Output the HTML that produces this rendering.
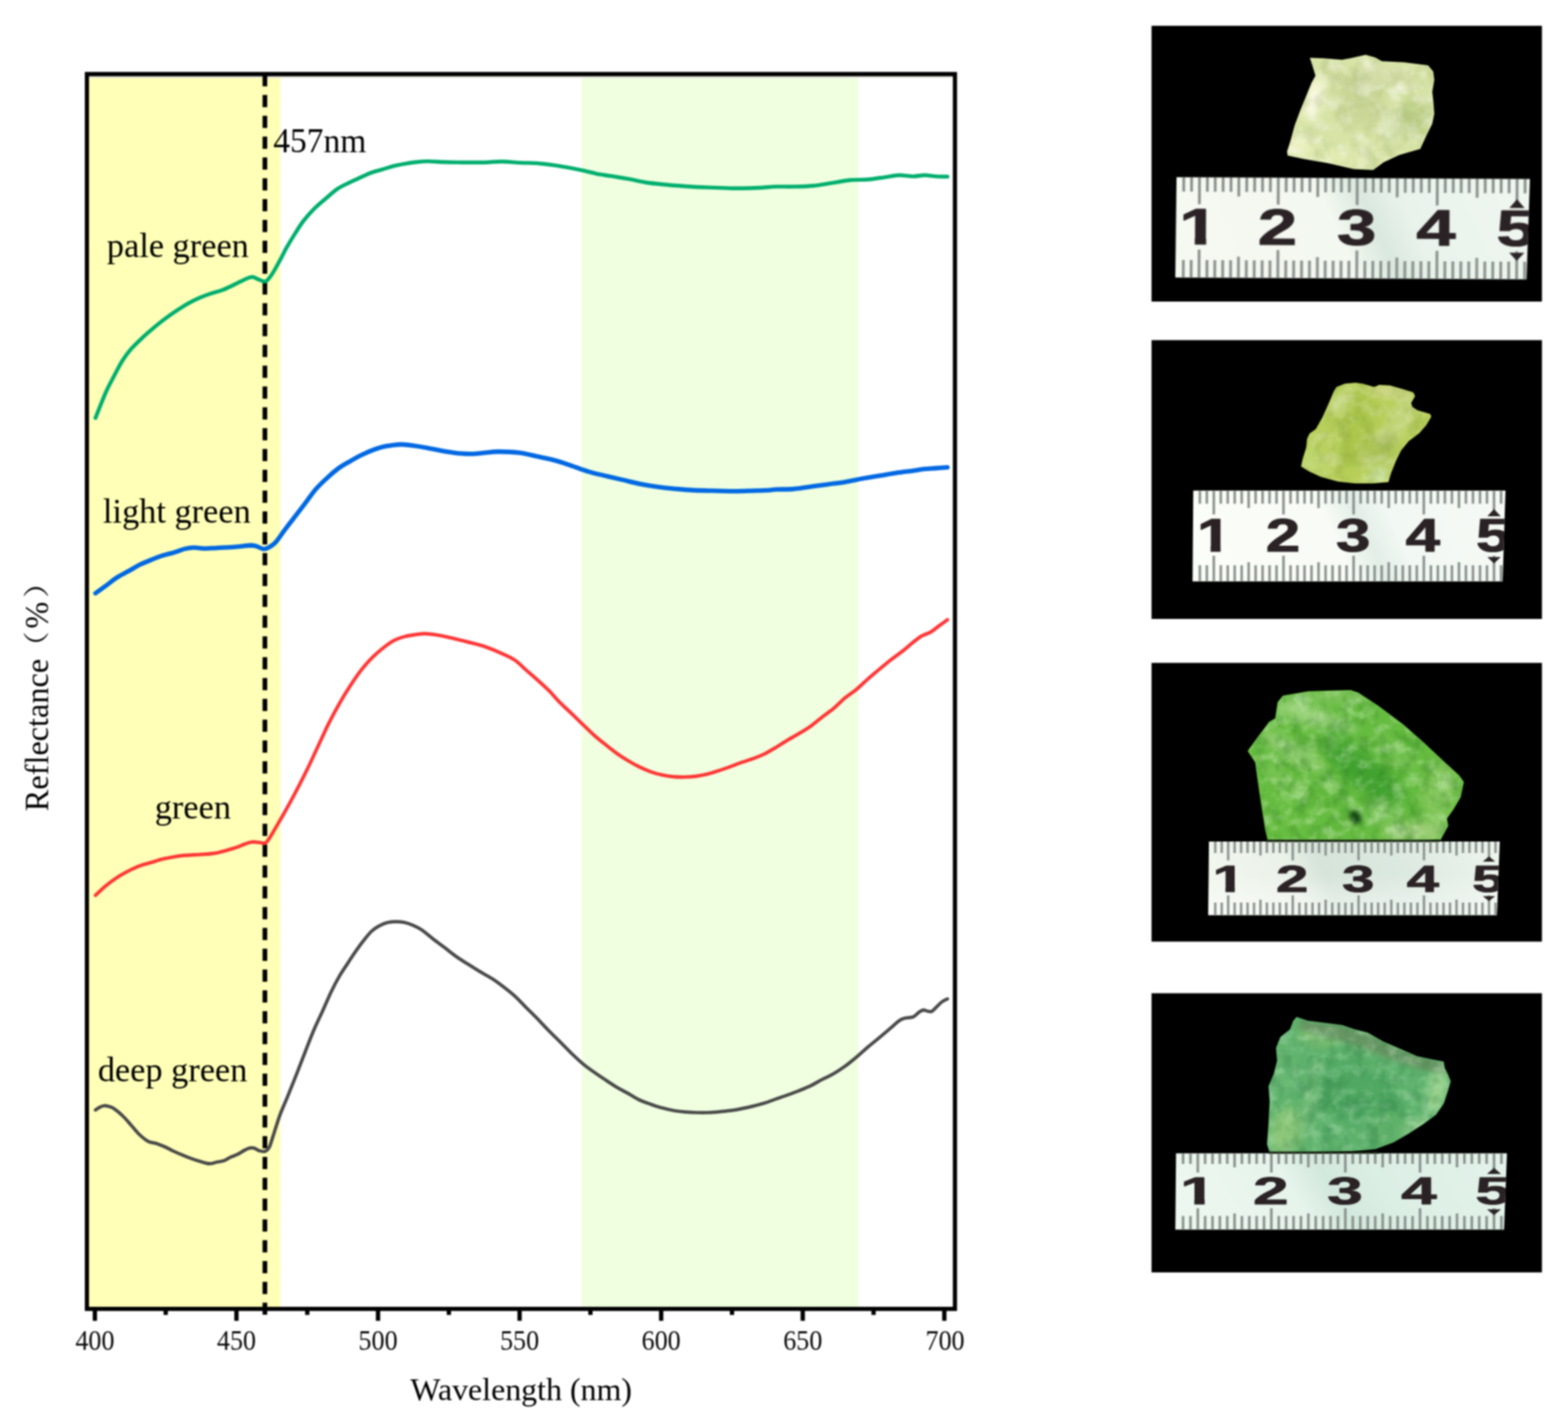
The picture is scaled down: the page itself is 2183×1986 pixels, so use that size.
<!DOCTYPE html>
<html lang="en"><head><meta charset="utf-8"><title>Reflectance spectra</title>
<style>
html,body{margin:0;padding:0;background:#fff;}
body{width:2183px;height:1986px;overflow:hidden;}
svg{display:block;}
text{font-family:"Liberation Serif","Noto Serif CJK SC",serif;}
.ct{fill:#000;}
.tk{fill:#0a0a0a;}
.rn{font-family:"Liberation Sans","DejaVu Sans",sans-serif;font-weight:bold;fill:#2a2225;stroke:#2a2225;stroke-linejoin:round;}
</style></head><body>
<svg xmlns="http://www.w3.org/2000/svg" width="2183" height="1986" viewBox="0 0 2183 1986">
<defs><filter color-interpolation-filters="sRGB" id="soft" x="-2%" y="-2%" width="104%" height="104%"><feGaussianBlur stdDeviation="0.9"/></filter>
<filter color-interpolation-filters="sRGB" id="tsoft" x="-2%" y="-2%" width="104%" height="104%"><feGaussianBlur stdDeviation="0.9"/></filter>
<filter color-interpolation-filters="sRGB" id="pb" x="-5%" y="-5%" width="110%" height="110%"><feGaussianBlur stdDeviation="1.1"/></filter>
<filter color-interpolation-filters="sRGB" id="rb" x="-5%" y="-5%" width="110%" height="110%"><feGaussianBlur stdDeviation="1.0"/></filter>
<filter color-interpolation-filters="sRGB" id="bb" x="-50%" y="-50%" width="200%" height="200%"><feGaussianBlur stdDeviation="7"/></filter>
<filter color-interpolation-filters="sRGB" id="bs" x="-50%" y="-50%" width="200%" height="200%"><feGaussianBlur stdDeviation="3"/></filter>
<filter color-interpolation-filters="sRGB" id="nzl0" x="0" y="0" width="100%" height="100%"><feTurbulence type="fractalNoise" baseFrequency="0.045 0.06" numOctaves="3" seed="3" result="n"/><feColorMatrix in="n" type="matrix" values="0 0 0 0 1  0 0 0 0 1  0 0 0 0 1  3.2 0 0 0 -1.45" result="a"/><feComposite in="SourceGraphic" in2="a" operator="in"/></filter>
<filter color-interpolation-filters="sRGB" id="nzd0" x="0" y="0" width="100%" height="100%"><feTurbulence type="fractalNoise" baseFrequency="0.05 0.04" numOctaves="3" seed="11" result="n"/><feColorMatrix in="n" type="matrix" values="0 0 0 0 1  0 0 0 0 1  0 0 0 0 1  0 3.2 0 0 -1.45" result="a"/><feComposite in="SourceGraphic" in2="a" operator="in"/></filter>
<filter color-interpolation-filters="sRGB" id="nzl1" x="0" y="0" width="100%" height="100%"><feTurbulence type="fractalNoise" baseFrequency="0.045 0.06" numOctaves="3" seed="10" result="n"/><feColorMatrix in="n" type="matrix" values="0 0 0 0 1  0 0 0 0 1  0 0 0 0 1  3.2 0 0 0 -1.45" result="a"/><feComposite in="SourceGraphic" in2="a" operator="in"/></filter>
<filter color-interpolation-filters="sRGB" id="nzd1" x="0" y="0" width="100%" height="100%"><feTurbulence type="fractalNoise" baseFrequency="0.05 0.04" numOctaves="3" seed="16" result="n"/><feColorMatrix in="n" type="matrix" values="0 0 0 0 1  0 0 0 0 1  0 0 0 0 1  0 3.2 0 0 -1.45" result="a"/><feComposite in="SourceGraphic" in2="a" operator="in"/></filter>
<filter color-interpolation-filters="sRGB" id="nzl2" x="0" y="0" width="100%" height="100%"><feTurbulence type="fractalNoise" baseFrequency="0.045 0.06" numOctaves="3" seed="17" result="n"/><feColorMatrix in="n" type="matrix" values="0 0 0 0 1  0 0 0 0 1  0 0 0 0 1  3.2 0 0 0 -1.45" result="a"/><feComposite in="SourceGraphic" in2="a" operator="in"/></filter>
<filter color-interpolation-filters="sRGB" id="nzd2" x="0" y="0" width="100%" height="100%"><feTurbulence type="fractalNoise" baseFrequency="0.05 0.04" numOctaves="3" seed="21" result="n"/><feColorMatrix in="n" type="matrix" values="0 0 0 0 1  0 0 0 0 1  0 0 0 0 1  0 3.2 0 0 -1.45" result="a"/><feComposite in="SourceGraphic" in2="a" operator="in"/></filter>
<filter color-interpolation-filters="sRGB" id="nzl3" x="0" y="0" width="100%" height="100%"><feTurbulence type="fractalNoise" baseFrequency="0.045 0.06" numOctaves="3" seed="24" result="n"/><feColorMatrix in="n" type="matrix" values="0 0 0 0 1  0 0 0 0 1  0 0 0 0 1  3.2 0 0 0 -1.45" result="a"/><feComposite in="SourceGraphic" in2="a" operator="in"/></filter>
<filter color-interpolation-filters="sRGB" id="nzd3" x="0" y="0" width="100%" height="100%"><feTurbulence type="fractalNoise" baseFrequency="0.05 0.04" numOctaves="3" seed="26" result="n"/><feColorMatrix in="n" type="matrix" values="0 0 0 0 1  0 0 0 0 1  0 0 0 0 1  0 3.2 0 0 -1.45" result="a"/><feComposite in="SourceGraphic" in2="a" operator="in"/></filter>
<clipPath id="sc0"><path d="M1824.6,81.2L1843.3,81.9L1868.3,84.0L1879.4,81.9L1901.7,77.1L1914.2,80.6L1923.9,86.1L1954.4,87.5L1987.8,91.7L1994.7,100.0L1996.1,111.1L1993.3,127.8L1994.7,140.3L1996.1,158.3L1993.3,172.2L1985.0,188.9L1976.7,206.9L1947.5,215.3L1926.7,225.0L1911.4,236.1L1885.0,234.7L1848.9,226.4L1815.6,220.8L1793.3,216.0L1792.6,211.1L1797.5,195.8L1803.1,175.0L1811.4,152.8L1818.3,136.1L1826.7,115.3L1832.2,105.6L1828.1,91.7Z"/></clipPath>
<clipPath id="sc1"><path d="M1861.0,539.8L1872.9,535.0L1887.1,533.8L1899.0,535.6L1913.3,539.8L1920.5,536.8L1934.8,537.4L1951.4,542.1L1966.9,546.9L1969.3,551.7L1963.9,561.2L1965.7,567.1L1972.9,571.9L1990.7,577.3L1991.9,580.2L1984.8,592.1L1975.2,602.9L1961.0,613.6L1950.2,626.7L1943.1,641.0L1936.0,658.8L1932.4,670.7L1911.0,672.5L1887.1,672.5L1863.3,670.1L1839.5,663.6L1821.7,655.2L1812.1,649.3L1814.5,638.6L1819.3,623.1L1820.5,611.2L1824.0,604.0L1832.4,598.1L1841.9,581.4L1851.4,560.0L1857.4,545.7Z"/></clipPath>
<clipPath id="sc2"><path d="M1786.4,969.5L1821.1,963.4L1852.4,962.6L1880.1,961.7L1890.6,965.2L1918.3,983.4L1953.1,1009.4L1980.8,1033.8L2008.6,1059.8L2031.2,1080.6L2037.3,1089.3L2032.9,1110.1L2022.5,1127.5L2013.8,1139.7L2015.6,1150.1L2005.1,1169.2L1970.4,1170.9L1765.6,1170.0L1762.1,1155.3L1756.9,1122.3L1751.7,1087.6L1748.2,1061.5L1737.8,1045.9L1751.7,1026.8L1767.3,1006.0L1776.0,1000.8L1779.4,978.2Z"/></clipPath>
<clipPath id="sc3"><path d="M1805.5,1417.1L1820.4,1422.3L1844.2,1425.3L1868.0,1428.3L1885.8,1434.2L1903.7,1438.7L1924.5,1450.6L1948.3,1461.0L1972.1,1471.4L1993.0,1475.9L2009.3,1478.9L2010.8,1487.8L2015.3,1496.7L2019.0,1505.7L2015.3,1519.0L2009.3,1536.9L1998.9,1551.8L1981.1,1565.2L1960.2,1578.6L1939.4,1590.5L1915.6,1599.4L1881.4,1603.1L1844.2,1603.9L1799.5,1605.1L1768.3,1605.1L1764.6,1593.5L1766.8,1563.7L1768.3,1533.9L1766.8,1513.1L1774.2,1495.2L1778.7,1477.4L1777.2,1459.5L1783.2,1444.6L1796.5,1434.2L1801.0,1422.3Z"/></clipPath>
<clipPath id="rc0"><path d="M1638.0,246.7 L2130.0,246.7 L2126.0,386.6 L1637.0,386.6 Z"/></clipPath>
<clipPath id="rc1"><path d="M1661.3,683.3 L2096.0,683.3 L2092.0,809.8 L1660.3,809.8 Z"/></clipPath>
<clipPath id="rc2"><path d="M1683.1,1172.0 L2088.0,1172.0 L2084.0,1274.4 L1682.1,1274.4 Z"/></clipPath>
<clipPath id="rc3"><path d="M1637.3,1606.2 L2098.0,1606.2 L2094.0,1712.5 L1636.3,1712.5 Z"/></clipPath>
<linearGradient id="rg0" x1="0" y1="0.13" x2="1" y2="0"><stop offset="0" stop-color="#f6f9f2"/><stop offset="0.4" stop-color="#f3f8f0"/><stop offset="0.51" stop-color="#dae8df"/><stop offset="0.62" stop-color="#e9f3ec"/><stop offset="1" stop-color="#f1f7f1"/></linearGradient>
<linearGradient id="rg1" x1="0" y1="0.13" x2="1" y2="0"><stop offset="0" stop-color="#fbfdf8"/><stop offset="0.4" stop-color="#f8fbf6"/><stop offset="0.5" stop-color="#e3eee7"/><stop offset="0.6" stop-color="#f2f8f3"/><stop offset="1" stop-color="#f6faf6"/></linearGradient>
<linearGradient id="rg2" x1="0" y1="0.10" x2="1" y2="0"><stop offset="0" stop-color="#f1f6ee"/><stop offset="0.24" stop-color="#ebf2ea"/><stop offset="0.36" stop-color="#d6e4da"/><stop offset="0.62" stop-color="#dce9e0"/><stop offset="1" stop-color="#eef5ee"/></linearGradient>
<linearGradient id="rg3" x1="0" y1="0.13" x2="1" y2="0"><stop offset="0" stop-color="#ecf7ef"/><stop offset="0.3" stop-color="#e6f4ec"/><stop offset="0.42" stop-color="#d3e8dd"/><stop offset="0.58" stop-color="#dcefe5"/><stop offset="1" stop-color="#e4f3eb"/></linearGradient>
<linearGradient id="rgv" x1="0" y1="0" x2="0" y2="1"><stop offset="0" stop-color="#fff" stop-opacity="0"/><stop offset="0.45" stop-color="#fff" stop-opacity="0"/><stop offset="1" stop-color="#fff" stop-opacity="0.55"/></linearGradient>
</defs>
<rect width="2183" height="1986" fill="#fff"/>
<g id="chart" filter="url(#soft)">
<rect x="121" y="108.5" width="269.5" height="1715" fill="#ffffb7"/>
<rect x="810" y="108.5" width="385" height="1715" fill="#efffdf"/>
<rect x="121" y="105" width="1208.8" height="3" fill="#c9c9c1"/>
<rect x="121" y="103.1" width="1208.5" height="1719.8" fill="none" stroke="#000" stroke-width="5.8"/>
<line x1="132.1" y1="1823" x2="132.1" y2="1839.5" stroke="#000" stroke-width="6"/>
<line x1="230.7" y1="1823" x2="230.7" y2="1831.3" stroke="#000" stroke-width="6"/>
<line x1="329.2" y1="1823" x2="329.2" y2="1839.5" stroke="#000" stroke-width="6"/>
<line x1="427.8" y1="1823" x2="427.8" y2="1831.3" stroke="#000" stroke-width="6"/>
<line x1="526.3" y1="1823" x2="526.3" y2="1839.5" stroke="#000" stroke-width="6"/>
<line x1="624.9" y1="1823" x2="624.9" y2="1831.3" stroke="#000" stroke-width="6"/>
<line x1="723.4" y1="1823" x2="723.4" y2="1839.5" stroke="#000" stroke-width="6"/>
<line x1="822.0" y1="1823" x2="822.0" y2="1831.3" stroke="#000" stroke-width="6"/>
<line x1="920.5" y1="1823" x2="920.5" y2="1839.5" stroke="#000" stroke-width="6"/>
<line x1="1019.1" y1="1823" x2="1019.1" y2="1831.3" stroke="#000" stroke-width="6"/>
<line x1="1117.6" y1="1823" x2="1117.6" y2="1839.5" stroke="#000" stroke-width="6"/>
<line x1="1216.2" y1="1823" x2="1216.2" y2="1831.3" stroke="#000" stroke-width="6"/>
<line x1="1314.7" y1="1823" x2="1314.7" y2="1839.5" stroke="#000" stroke-width="6"/>
<line x1="368.8" y1="103.2" x2="368.8" y2="1831" stroke="#000" stroke-width="6.5" stroke-dasharray="17 12"/>
<path d="M132.9,1545.9C133.9,1545.3 136.9,1542.9 138.9,1542.0C140.9,1541.0 142.9,1540.2 144.8,1540.0C146.8,1539.8 148.5,1540.1 150.8,1540.8C153.1,1541.4 155.4,1541.8 158.7,1543.9C162.0,1546.1 166.7,1550.0 170.6,1553.9C174.6,1557.7 178.6,1562.5 182.5,1567.0C186.5,1571.4 190.5,1576.7 194.4,1580.4C198.4,1584.2 202.4,1587.5 206.3,1589.6C210.3,1591.6 214.3,1591.4 218.3,1592.7C222.2,1594.1 226.2,1595.7 230.2,1597.5C234.1,1599.3 238.1,1601.6 242.1,1603.5C246.0,1605.3 250.0,1607.0 254.0,1608.6C257.9,1610.3 261.9,1611.9 265.9,1613.4C269.8,1614.8 274.1,1616.2 277.8,1617.3C281.4,1618.5 285.1,1619.6 287.7,1620.1C290.3,1620.7 291.3,1620.8 293.7,1620.5C296.0,1620.3 298.6,1619.2 301.6,1618.5C304.6,1617.9 308.2,1617.7 311.5,1616.6C314.8,1615.4 318.1,1612.9 321.4,1611.4C324.7,1609.9 328.0,1609.1 331.3,1607.4C334.7,1605.8 338.3,1602.9 341.3,1601.5C344.2,1600.0 346.9,1599.0 349.2,1598.7C351.5,1598.4 353.2,1598.8 355.2,1599.5C357.1,1600.2 358.8,1602.0 361.1,1602.7C363.4,1603.3 366.7,1604.3 369.0,1603.5C371.4,1602.6 373.0,1601.5 375.0,1597.5C377.0,1593.5 378.4,1587.3 381.0,1579.7C383.5,1572.0 386.9,1560.5 390.1,1551.9C393.3,1543.3 396.1,1537.7 400.0,1528.1C403.9,1518.5 409.2,1505.2 413.5,1494.3C417.8,1483.4 421.8,1472.8 425.8,1462.6C429.8,1452.3 433.7,1442.1 437.7,1432.8C441.7,1423.6 445.7,1415.6 449.6,1407.0C453.5,1398.4 457.3,1389.2 461.1,1381.2C464.9,1373.3 468.8,1366.0 472.6,1359.4C476.5,1352.8 480.4,1347.3 484.1,1341.6C487.9,1335.8 491.5,1330.2 495.2,1324.9C498.9,1319.6 502.7,1314.4 506.3,1309.8C510.0,1305.2 513.4,1300.6 517.1,1297.1C520.8,1293.7 524.8,1291.2 528.6,1289.2C532.3,1287.1 535.8,1285.7 539.7,1284.8C543.5,1283.9 547.6,1283.6 551.6,1283.6C555.6,1283.6 559.5,1283.9 563.5,1284.8C567.5,1285.7 571.4,1287.1 575.4,1288.8C579.4,1290.5 582.7,1292.0 587.3,1295.1C591.9,1298.3 597.9,1303.7 603.2,1307.8C608.5,1311.9 613.8,1315.7 619.0,1319.7C624.3,1323.8 629.6,1328.3 634.9,1332.0C640.2,1335.8 645.5,1339.0 650.8,1342.3C656.1,1345.7 661.4,1349.1 666.7,1352.3C672.0,1355.4 677.9,1358.6 682.5,1361.4C687.2,1364.2 688.9,1365.2 694.4,1369.3C700.0,1373.5 709.7,1380.9 715.9,1386.4C722.1,1391.9 726.5,1397.0 731.7,1402.3C737.0,1407.6 742.3,1412.7 747.6,1418.1C752.9,1423.6 758.2,1429.4 763.5,1434.8C768.8,1440.2 774.1,1445.4 779.4,1450.7C784.7,1456.0 789.9,1461.5 795.2,1466.6C800.5,1471.6 805.8,1476.8 811.1,1481.2C816.4,1485.7 821.7,1489.4 827.0,1493.1C832.3,1496.9 837.6,1500.4 842.9,1503.9C848.1,1507.4 853.4,1511.0 858.7,1514.2C864.0,1517.3 869.3,1519.9 874.6,1522.9C879.9,1525.9 885.2,1529.5 890.5,1532.0C895.8,1534.5 901.1,1536.1 906.3,1538.0C911.6,1539.8 916.9,1541.7 922.2,1543.1C927.5,1544.6 932.8,1545.8 938.1,1546.7C943.4,1547.6 948.7,1548.2 954.0,1548.7C959.3,1549.2 964.6,1549.4 969.8,1549.5C975.1,1549.6 980.4,1549.7 985.7,1549.5C991.0,1549.3 996.3,1548.8 1001.6,1548.3C1006.9,1547.8 1012.2,1547.4 1017.5,1546.7C1022.8,1546.0 1028.0,1545.0 1033.3,1543.9C1038.6,1542.9 1043.9,1541.7 1049.2,1540.4C1054.5,1539.0 1059.8,1537.7 1065.1,1536.0C1070.4,1534.3 1075.7,1532.3 1081.0,1530.4C1086.2,1528.6 1091.5,1526.8 1096.8,1524.9C1102.1,1523.0 1107.4,1521.1 1112.7,1518.9C1118.0,1516.8 1123.3,1514.8 1128.6,1512.2C1133.9,1509.6 1139.2,1506.2 1144.4,1503.5C1149.7,1500.7 1155.0,1498.6 1160.3,1495.5C1165.6,1492.5 1170.9,1489.0 1176.2,1485.2C1181.5,1481.4 1186.8,1476.9 1192.1,1472.5C1197.4,1468.1 1202.6,1463.1 1207.9,1458.6C1213.2,1454.1 1218.5,1450.0 1223.8,1445.5C1229.1,1441.1 1235.1,1436.0 1239.7,1432.0C1244.3,1428.1 1248.3,1424.0 1251.6,1421.7C1254.9,1419.4 1256.2,1419.1 1259.5,1418.1C1262.8,1417.2 1268.1,1417.5 1271.4,1416.2C1274.7,1414.8 1277.1,1411.4 1279.4,1409.8C1281.7,1408.2 1283.3,1406.9 1285.3,1406.6C1287.3,1406.4 1289.3,1407.9 1291.3,1408.2C1293.3,1408.6 1295.2,1409.5 1297.2,1408.6C1299.2,1407.8 1300.9,1405.2 1303.2,1403.1C1305.5,1400.9 1308.5,1397.5 1311.1,1395.5C1313.8,1393.5 1317.7,1391.9 1319.0,1391.2" fill="none" stroke="#4a4a4a" stroke-width="4.7" stroke-linecap="round" stroke-linejoin="round"/>
<path d="M132.9,1246.8C135.3,1244.7 141.9,1238.2 146.8,1234.1C151.8,1230.0 157.4,1225.7 162.7,1222.2C168.0,1218.7 173.3,1215.8 178.6,1213.1C183.9,1210.4 189.2,1207.9 194.4,1206.0C199.7,1204.0 205.0,1202.8 210.3,1201.2C215.6,1199.6 220.9,1197.8 226.2,1196.4C231.5,1195.1 236.8,1194.1 242.1,1193.3C247.4,1192.4 252.0,1191.8 257.9,1191.3C263.9,1190.7 271.2,1190.5 277.8,1190.1C284.4,1189.6 291.7,1189.4 297.6,1188.5C303.6,1187.6 308.2,1186.3 313.5,1184.9C318.8,1183.5 324.7,1181.7 329.4,1180.2C334.0,1178.6 337.6,1176.7 341.3,1175.4C344.9,1174.1 347.9,1172.9 351.2,1172.6C354.5,1172.3 358.1,1173.1 361.1,1173.4C364.1,1173.7 366.7,1175.2 369.0,1174.2C371.4,1173.2 372.4,1171.2 375.0,1167.5C377.6,1163.7 381.0,1157.5 384.5,1151.6C388.0,1145.6 391.9,1139.0 396.0,1131.7C400.1,1124.5 404.2,1117.2 409.1,1107.9C414.0,1098.7 420.0,1087.1 425.4,1076.2C430.8,1065.3 436.0,1053.7 441.3,1042.5C446.6,1031.2 451.9,1019.3 457.1,1008.7C462.4,998.1 467.7,988.2 473.0,979.0C478.3,969.7 483.7,961.1 488.9,953.2C494.1,945.2 499.2,937.8 504.4,931.3C509.5,924.9 514.8,919.2 519.8,914.3C524.9,909.3 529.6,905.4 534.5,901.6C539.4,897.8 544.4,894.2 549.2,891.7C554.0,889.2 558.5,887.8 563.5,886.5C568.5,885.2 574.7,884.4 579.4,883.7C584.0,883.1 586.6,882.5 591.3,882.5C595.9,882.6 601.2,883.2 607.1,884.1C613.1,885.1 619.7,886.4 627.0,888.1C634.3,889.7 642.9,892.0 650.8,894.0C658.7,896.1 667.3,898.0 674.6,900.4C681.9,902.8 687.6,905.3 694.4,908.3C701.3,911.4 709.7,914.6 715.9,918.7C722.1,922.7 726.5,927.9 731.7,932.5C737.0,937.2 742.3,941.7 747.6,946.4C752.9,951.2 758.2,955.8 763.5,961.1C768.8,966.4 774.1,972.8 779.4,978.2C784.7,983.5 789.9,988.2 795.2,993.3C800.5,998.3 805.8,1003.6 811.1,1008.7C816.4,1013.8 821.7,1019.1 827.0,1023.8C832.3,1028.5 837.6,1032.7 842.9,1036.9C848.1,1041.1 853.4,1045.4 858.7,1049.2C864.0,1053.0 869.3,1056.3 874.6,1059.5C879.9,1062.7 885.2,1065.7 890.5,1068.3C895.8,1070.8 901.1,1073.1 906.3,1075.0C911.6,1076.9 916.9,1078.2 922.2,1079.4C927.5,1080.5 932.8,1081.3 938.1,1081.7C943.4,1082.2 948.7,1082.3 954.0,1082.1C959.3,1082.0 964.6,1081.7 969.8,1081.0C975.1,1080.2 980.4,1079.1 985.7,1077.8C991.0,1076.5 996.3,1074.7 1001.6,1073.0C1006.9,1071.3 1012.2,1069.4 1017.5,1067.5C1022.8,1065.5 1028.0,1063.4 1033.3,1061.5C1038.6,1059.7 1043.9,1058.3 1049.2,1056.3C1054.5,1054.4 1059.8,1052.2 1065.1,1049.6C1070.4,1047.0 1075.7,1043.7 1081.0,1040.5C1086.2,1037.3 1091.5,1033.7 1096.8,1030.6C1102.1,1027.4 1107.4,1024.6 1112.7,1021.4C1118.0,1018.3 1123.3,1015.3 1128.6,1011.5C1133.9,1007.7 1139.2,1002.9 1144.4,998.8C1149.7,994.7 1155.0,991.3 1160.3,986.9C1165.6,982.5 1170.9,976.7 1176.2,972.2C1181.5,967.8 1186.8,964.7 1192.1,960.3C1197.4,956.0 1202.6,950.7 1207.9,946.0C1213.2,941.4 1218.5,937.0 1223.8,932.5C1229.1,928.1 1234.4,923.6 1239.7,919.4C1245.0,915.3 1250.3,911.7 1255.6,907.5C1260.8,903.4 1266.8,898.1 1271.4,894.4C1276.1,890.8 1279.4,888.0 1283.3,885.7C1287.3,883.4 1291.3,882.9 1295.2,880.6C1299.2,878.2 1303.2,874.7 1307.1,871.8C1311.1,868.9 1317.1,864.6 1319.0,863.1" fill="none" stroke="#ff3636" stroke-width="4.9" stroke-linecap="round" stroke-linejoin="round"/>
<path d="M132.9,826.2C135.3,824.5 141.9,819.9 146.8,816.3C151.8,812.6 157.4,807.8 162.7,804.4C168.0,800.9 173.3,798.6 178.6,795.6C183.9,792.7 189.2,789.2 194.4,786.5C199.7,783.9 205.0,781.9 210.3,779.8C215.6,777.6 220.9,775.5 226.2,773.8C231.5,772.1 236.8,771.0 242.1,769.4C247.4,767.9 253.3,765.4 257.9,764.3C262.6,763.2 265.2,762.8 269.8,762.7C274.5,762.6 280.4,763.8 285.7,763.9C291.0,764.0 296.3,763.4 301.6,763.1C306.9,762.8 312.2,762.6 317.5,762.3C322.8,762.0 328.0,761.6 333.3,761.1C338.6,760.6 345.2,759.6 349.2,759.5C353.2,759.5 354.2,759.9 357.1,760.7C360.1,761.6 364.1,764.5 367.1,764.7C370.0,764.9 372.2,763.6 375.0,761.9C377.8,760.3 380.8,758.5 384.1,754.8C387.5,751.1 391.3,745.0 395.2,739.7C399.2,734.4 403.2,729.2 407.9,723.0C412.7,716.8 418.5,709.3 423.8,702.4C429.1,695.4 434.4,687.5 439.7,681.3C445.0,675.2 450.3,670.3 455.6,665.5C460.8,660.6 465.9,656.2 471.0,652.4C476.2,648.6 481.4,645.8 486.5,642.9C491.6,639.9 496.6,637.0 501.6,634.5C506.6,632.0 511.6,629.8 516.7,627.8C521.7,625.8 526.6,623.9 531.7,622.6C536.9,621.3 543.0,620.4 547.6,619.8C552.2,619.2 554.9,618.9 559.5,619.0C564.2,619.2 569.4,619.8 575.4,620.6C581.3,621.4 588.0,622.5 595.2,623.8C602.5,625.1 611.1,627.2 619.0,628.6C627.0,629.9 636.2,631.2 642.9,631.7C649.5,632.3 653.4,632.3 658.7,632.1C664.0,631.9 668.7,631.1 674.6,630.6C680.6,630.0 686.2,629.0 694.4,629.0C702.6,629.0 714.9,629.4 723.8,630.6C732.7,631.7 739.7,634.0 747.6,635.7C755.6,637.4 763.5,638.8 771.4,640.9C779.4,643.0 787.3,645.8 795.2,648.4C803.2,651.1 811.1,654.4 819.0,656.7C827.0,659.1 834.9,660.8 842.9,662.7C850.8,664.6 858.7,666.4 866.7,668.3C874.6,670.1 882.5,672.2 890.5,673.8C898.4,675.4 906.3,676.7 914.3,677.8C922.2,678.9 930.2,679.8 938.1,680.6C946.0,681.3 954.0,682.1 961.9,682.5C969.8,683.0 976.5,683.1 985.7,683.3C995.0,683.6 1008.2,684.1 1017.5,684.1C1026.7,684.2 1033.3,683.9 1041.3,683.7C1049.2,683.5 1058.5,683.3 1065.1,682.9C1071.7,682.6 1074.3,682.1 1081.0,681.7C1087.6,681.4 1096.8,681.6 1104.8,681.0C1112.7,680.3 1120.6,678.8 1128.6,677.8C1136.5,676.7 1144.4,675.7 1152.4,674.6C1160.3,673.5 1168.3,672.8 1176.2,671.4C1184.1,670.1 1192.1,668.1 1200.0,666.7C1207.9,665.2 1215.9,664.0 1223.8,662.7C1231.7,661.4 1239.7,659.9 1247.6,658.7C1255.6,657.5 1264.8,656.5 1271.4,655.6C1278.0,654.6 1282.0,653.8 1287.3,653.2C1292.6,652.6 1297.9,652.4 1303.2,652.0C1308.5,651.6 1316.4,651.0 1319.0,650.8" fill="none" stroke="#0068e2" stroke-width="6.3" stroke-linecap="round" stroke-linejoin="round"/>
<path d="M132.9,582.1C135.3,576.4 142.5,557.3 146.8,547.6C151.1,537.9 154.8,531.4 158.7,523.8C162.7,516.2 166.7,508.3 170.6,502.0C174.6,495.7 177.9,491.4 182.5,486.1C187.2,480.8 193.1,475.2 198.4,470.2C203.7,465.3 209.0,460.8 214.3,456.3C219.6,451.9 224.9,447.6 230.2,443.7C235.4,439.7 240.7,436.0 246.0,432.5C251.3,429.0 256.6,425.6 261.9,422.6C267.2,419.6 272.5,417.0 277.8,414.7C283.1,412.4 288.4,410.5 293.7,408.7C298.9,406.9 304.2,406.0 309.5,404.0C314.8,402.0 320.1,399.3 325.4,396.8C330.7,394.3 337.0,390.7 341.3,388.9C345.6,387.0 348.2,385.7 351.2,385.7C354.2,385.7 356.2,387.8 359.1,388.9C362.1,389.9 366.4,392.4 369.0,392.1C371.7,391.7 372.9,389.4 375.0,386.9C377.1,384.4 379.2,381.3 381.7,377.0C384.3,372.7 387.6,366.4 390.5,361.1C393.3,355.8 395.4,351.2 398.8,345.2C402.2,339.3 406.7,331.7 410.7,325.4C414.7,319.1 418.0,313.5 422.6,307.5C427.2,301.6 433.2,295.0 438.5,289.7C443.8,284.4 449.1,280.2 454.4,275.8C459.6,271.4 464.7,266.6 469.8,263.1C475.0,259.6 480.3,257.3 485.3,254.8C490.3,252.2 494.9,250.3 500.0,248.0C505.1,245.7 510.6,242.9 515.9,240.9C521.2,238.9 526.5,237.7 531.7,236.1C537.0,234.5 542.3,232.7 547.6,231.3C552.9,230.0 558.2,229.1 563.5,228.2C568.8,227.2 574.1,226.4 579.4,225.8C584.7,225.2 588.6,224.6 595.2,224.6C601.9,224.6 611.1,225.5 619.0,225.8C627.0,226.1 633.6,226.1 642.9,226.2C652.1,226.3 665.3,226.4 674.6,226.2C683.9,226.0 690.2,224.9 698.4,225.0C706.6,225.1 715.6,226.2 723.8,226.6C732.0,227.0 739.7,226.8 747.6,227.4C755.6,228.0 763.5,229.0 771.4,230.2C779.4,231.3 788.6,232.9 795.2,234.1C801.9,235.3 805.2,236.0 811.1,237.3C817.1,238.6 824.3,240.7 831.0,242.1C837.6,243.4 843.5,244.0 850.8,245.2C858.1,246.4 866.7,247.8 874.6,249.2C882.5,250.7 890.5,252.7 898.4,254.0C906.3,255.2 914.3,256.0 922.2,256.7C930.2,257.5 936.8,258.1 946.0,258.7C955.3,259.4 967.2,260.2 977.8,260.7C988.4,261.2 1000.3,261.6 1009.5,261.9C1018.8,262.2 1025.4,262.4 1033.3,262.3C1041.3,262.2 1049.2,261.9 1057.1,261.5C1065.1,261.1 1073.0,260.2 1081.0,259.9C1088.9,259.7 1096.2,260.1 1104.8,259.9C1113.4,259.7 1123.9,259.5 1132.5,258.7C1141.1,257.9 1147.8,256.5 1156.3,255.2C1164.9,253.8 1175.5,251.7 1184.1,250.8C1192.7,249.9 1200.0,250.7 1207.9,250.0C1215.9,249.3 1224.5,247.8 1231.7,246.8C1239.0,245.8 1245.0,244.2 1251.6,244.0C1258.2,243.8 1265.5,245.6 1271.4,245.6C1277.4,245.6 1282.0,244.0 1287.3,244.0C1292.6,244.0 1297.9,245.3 1303.2,245.6C1308.5,246.0 1316.4,246.0 1319.0,246.0" fill="none" stroke="#00ae6e" stroke-width="5.4" stroke-linecap="round" stroke-linejoin="round"/>
</g>
<g id="labels" filter="url(#tsoft)">
<text class="ct" font-size="47.80" transform="translate(148.83,357.60) scale(1,1.005)">pale green</text>
<text class="ct" font-size="47.80" transform="translate(143.34,728.30) scale(1,1.005)">light green</text>
<text class="ct" font-size="47.80" transform="translate(215.45,1139.90) scale(1,1.005)">green</text>
<text class="ct" font-size="47.80" transform="translate(136.17,1506.20) scale(1,1.005)">deep green</text>
<text class="ct" font-size="46.60" transform="translate(380.49,211.70) scale(1,1.045)">457nm</text>
<text class="tk" font-size="36.30" transform="translate(132.10,1880.20) scale(1,1.087)" text-anchor="middle">400</text>
<text class="tk" font-size="36.30" transform="translate(329.20,1880.20) scale(1,1.087)" text-anchor="middle">450</text>
<text class="tk" font-size="36.30" transform="translate(526.30,1880.20) scale(1,1.087)" text-anchor="middle">500</text>
<text class="tk" font-size="36.30" transform="translate(723.40,1880.20) scale(1,1.087)" text-anchor="middle">550</text>
<text class="tk" font-size="36.30" transform="translate(920.50,1880.20) scale(1,1.087)" text-anchor="middle">600</text>
<text class="tk" font-size="36.30" transform="translate(1117.60,1880.20) scale(1,1.087)" text-anchor="middle">650</text>
<text class="tk" font-size="36.30" transform="translate(1315.70,1880.20) scale(1,1.087)" text-anchor="middle">700</text>
<text class="ct" font-size="44.45" transform="translate(725.60,1949.50) scale(1,1.000)" text-anchor="middle">Wavelength (nm)</text>
<text class="ct" font-size="45.00" transform="translate(67.30,1129.80) rotate(-90) scale(1.000,1.040)">Reflectance</text>
<text class="ct" font-size="36.30" transform="translate(63.80,921.30) rotate(-90) scale(1.156,1.000)">（</text>
<text class="ct" font-size="45.00" transform="translate(66.90,875.50) rotate(-90) scale(1.000,1.033)">%</text>
<text class="ct" font-size="36.30" transform="translate(63.80,832.75) rotate(-90) scale(1.204,1.000)">）</text>
</g>
<g id="photo1">
<rect x="1603.2" y="35.9" width="543.5" height="384.1" fill="#000" filter="url(#rb)"/>
<g filter="url(#pb)">
<path d="M1824.6,81.2L1843.3,81.9L1868.3,84.0L1879.4,81.9L1901.7,77.1L1914.2,80.6L1923.9,86.1L1954.4,87.5L1987.8,91.7L1994.7,100.0L1996.1,111.1L1993.3,127.8L1994.7,140.3L1996.1,158.3L1993.3,172.2L1985.0,188.9L1976.7,206.9L1947.5,215.3L1926.7,225.0L1911.4,236.1L1885.0,234.7L1848.9,226.4L1815.6,220.8L1793.3,216.0L1792.6,211.1L1797.5,195.8L1803.1,175.0L1811.4,152.8L1818.3,136.1L1826.7,115.3L1832.2,105.6L1828.1,91.7Z" fill="#d8e4a6" stroke="#d8e4a6" stroke-width="1.5" stroke-linejoin="round"/>
<g clip-path="url(#sc0)">
<ellipse cx="1829.4" cy="136.1" rx="13.2" ry="31.9" transform="rotate(18 1829.4 136.1)" fill="#f8f8dc" opacity="0.95" filter="url(#bb)"/>
<ellipse cx="1807.2" cy="201.4" rx="19.4" ry="19.4" transform="rotate(0 1807.2 201.4)" fill="#eef3c6" opacity="0.85" filter="url(#bb)"/>
<ellipse cx="1865.6" cy="216.7" rx="47.2" ry="11.1" transform="rotate(8 1865.6 216.7)" fill="#e8efba" opacity="0.75" filter="url(#bb)"/>
<ellipse cx="1893.3" cy="138.9" rx="34.7" ry="37.5" transform="rotate(0 1893.3 138.9)" fill="#c4d090" opacity="0.70" filter="url(#bb)"/>
<ellipse cx="1968.3" cy="165.3" rx="25.0" ry="30.6" transform="rotate(0 1968.3 165.3)" fill="#b6ca7e" opacity="0.75" filter="url(#bb)"/>
<ellipse cx="1939.2" cy="175.0" rx="13.9" ry="20.8" transform="rotate(0 1939.2 175.0)" fill="#d8e4b8" opacity="0.85" filter="url(#bb)"/>
<ellipse cx="1933.6" cy="105.6" rx="41.7" ry="13.9" transform="rotate(5 1933.6 105.6)" fill="#d6dcac" opacity="0.70" filter="url(#bb)"/>
<ellipse cx="1947.5" cy="120.8" rx="6.9" ry="5.6" transform="rotate(0 1947.5 120.8)" fill="#f2f2d6" opacity="0.90" filter="url(#bs)"/>
<ellipse cx="1907.2" cy="91.7" rx="5.6" ry="6.9" transform="rotate(0 1907.2 91.7)" fill="#f0f0d0" opacity="0.80" filter="url(#bs)"/>
<ellipse cx="1982.2" cy="138.9" rx="8.3" ry="6.9" transform="rotate(0 1982.2 138.9)" fill="#dfe6bc" opacity="0.80" filter="url(#bs)"/>
<ellipse cx="1857.2" cy="95.8" rx="20.8" ry="9.7" transform="rotate(0 1857.2 95.8)" fill="#d0d8a0" opacity="0.60" filter="url(#bb)"/>
<ellipse cx="1891.9" cy="116.7" rx="8.3" ry="4.2" transform="rotate(-20 1891.9 116.7)" fill="#eeeed0" opacity="0.70" filter="url(#bs)"/>
<rect x="1788.6" y="73.1" width="211.5" height="167.0" fill="#ffffff" opacity="0.35" filter="url(#nzl0)"/>
<rect x="1788.6" y="73.1" width="211.5" height="167.0" fill="#94a662" opacity="0.22" filter="url(#nzd0)"/>
</g></g>
<g filter="url(#rb)" transform="rotate(0.30 1638.0 246.7)">
<path d="M1638.0,246.7 L2130.0,246.7 L2126.0,386.6 L1637.0,386.6 Z" fill="url(#rg0)"/>
<g clip-path="url(#rc0)">
<path d="M1648.1,246.7 V266.7 M1648.1,386.6 V362.1 M1659.0,246.7 V266.7 M1659.0,386.6 V362.1 M1670.0,246.7 V284.2 M1670.0,386.6 V347.6 M1681.0,246.7 V266.7 M1681.0,386.6 V362.1 M1691.9,246.7 V266.7 M1691.9,386.6 V362.1 M1702.9,246.7 V266.7 M1702.9,386.6 V362.1 M1713.9,246.7 V266.7 M1713.9,386.6 V362.1 M1724.8,246.7 V273.2 M1724.8,386.6 V357.1 M1735.8,246.7 V266.7 M1735.8,386.6 V362.1 M1746.8,246.7 V266.7 M1746.8,386.6 V362.1 M1757.8,246.7 V266.7 M1757.8,386.6 V362.1 M1768.7,246.7 V266.7 M1768.7,386.6 V362.1 M1779.7,246.7 V284.2 M1779.7,386.6 V347.6 M1790.7,246.7 V266.7 M1790.7,386.6 V362.1 M1801.7,246.7 V266.7 M1801.7,386.6 V362.1 M1812.7,246.7 V266.7 M1812.7,386.6 V362.1 M1823.7,246.7 V266.7 M1823.7,386.6 V362.1 M1834.7,246.7 V273.2 M1834.7,386.6 V357.1 M1845.6,246.7 V266.7 M1845.6,386.6 V362.1 M1856.6,246.7 V266.7 M1856.6,386.6 V362.1 M1867.6,246.7 V266.7 M1867.6,386.6 V362.1 M1878.6,246.7 V266.7 M1878.6,386.6 V362.1 M1889.6,246.7 V284.2 M1889.6,386.6 V347.6 M1900.8,246.7 V266.7 M1900.8,386.6 V362.1 M1911.9,246.7 V266.7 M1911.9,386.6 V362.1 M1923.0,246.7 V266.7 M1923.0,386.6 V362.1 M1934.2,246.7 V266.7 M1934.2,386.6 V362.1 M1945.3,246.7 V273.2 M1945.3,386.6 V357.1 M1956.5,246.7 V266.7 M1956.5,386.6 V362.1 M1967.6,246.7 V266.7 M1967.6,386.6 V362.1 M1978.8,246.7 V266.7 M1978.8,386.6 V362.1 M1989.9,246.7 V266.7 M1989.9,386.6 V362.1 M2001.1,246.7 V284.2 M2001.1,386.6 V347.6 M2012.2,246.7 V266.7 M2012.2,386.6 V362.1 M2023.3,246.7 V266.7 M2023.3,386.6 V362.1 M2034.4,246.7 V266.7 M2034.4,386.6 V362.1 M2045.5,246.7 V266.7 M2045.5,386.6 V362.1 M2056.6,246.7 V273.2 M2056.6,386.6 V357.1 M2067.8,246.7 V266.7 M2067.8,386.6 V362.1 M2078.9,246.7 V266.7 M2078.9,386.6 V362.1 M2090.0,246.7 V266.7 M2090.0,386.6 V362.1 M2101.1,246.7 V266.7 M2101.1,386.6 V362.1 M2112.2,246.7 V284.2 M2112.2,386.6 V347.6 M2123.3,246.7 V266.7 M2123.3,386.6 V362.1" stroke="#8d948f" stroke-width="4.0" fill="none"/>
<clipPath id="c1_0"><path d="M-2,-69.8 H41.9 V-9.4 H26.7 V3 H15.5 V-9.4 H-2 Z"/></clipPath>
<text class="rn" stroke-width="1.13" font-size="69.8" transform="translate(1642.0,340.2) scale(1.411,1)" clip-path="url(#c1_0)">1</text>
<text class="rn" stroke-width="1.13" font-size="69.8" transform="translate(1751.6,340.2) scale(1.411,1)">2</text>
<text class="rn" stroke-width="1.13" font-size="69.8" transform="translate(1861.8,340.2) scale(1.411,1)">3</text>
<text class="rn" stroke-width="1.13" font-size="69.8" transform="translate(1972.2,340.2) scale(1.411,1)">4</text>
<text class="rn" stroke-width="1.13" font-size="69.8" transform="translate(2083.7,340.2) scale(1.411,1)">5</text>
<path d="M2112.2,275.1 L2122.8,287.2 L2101.6,287.2 Z" fill="#2a2326"/>
<path d="M2112.2,360.7 L2122.8,349.6 L2101.6,349.6 Z" fill="#2a2326"/>
</g></g>
</g>
<g id="photo2">
<rect x="1603.2" y="473.7" width="543.5" height="388.3" fill="#000" filter="url(#rb)"/>
<g filter="url(#pb)">
<path d="M1861.0,539.8L1872.9,535.0L1887.1,533.8L1899.0,535.6L1913.3,539.8L1920.5,536.8L1934.8,537.4L1951.4,542.1L1966.9,546.9L1969.3,551.7L1963.9,561.2L1965.7,567.1L1972.9,571.9L1990.7,577.3L1991.9,580.2L1984.8,592.1L1975.2,602.9L1961.0,613.6L1950.2,626.7L1943.1,641.0L1936.0,658.8L1932.4,670.7L1911.0,672.5L1887.1,672.5L1863.3,670.1L1839.5,663.6L1821.7,655.2L1812.1,649.3L1814.5,638.6L1819.3,623.1L1820.5,611.2L1824.0,604.0L1832.4,598.1L1841.9,581.4L1851.4,560.0L1857.4,545.7Z" fill="#b8d05a" stroke="#b8d05a" stroke-width="1.5" stroke-linejoin="round"/>
<g clip-path="url(#sc1)">
<ellipse cx="1887.1" cy="600.5" rx="23.8" ry="51.2" transform="rotate(14 1887.1 600.5)" fill="#a8c348" opacity="0.80" filter="url(#bb)"/>
<ellipse cx="1949.0" cy="586.2" rx="15.5" ry="39.3" transform="rotate(30 1949.0 586.2)" fill="#c4d682" opacity="0.80" filter="url(#bb)"/>
<ellipse cx="1920.5" cy="661.2" rx="13.1" ry="13.1" transform="rotate(0 1920.5 661.2)" fill="#d8eebc" opacity="0.90" filter="url(#bb)"/>
<ellipse cx="1830.0" cy="644.5" rx="17.9" ry="17.9" transform="rotate(0 1830.0 644.5)" fill="#c4da7c" opacity="0.80" filter="url(#bb)"/>
<ellipse cx="1934.8" cy="544.5" rx="33.3" ry="7.1" transform="rotate(8 1934.8 544.5)" fill="#d6d99c" opacity="0.90" filter="url(#bb)"/>
<ellipse cx="1866.9" cy="561.2" rx="13.1" ry="15.5" transform="rotate(0 1866.9 561.2)" fill="#c8da90" opacity="0.70" filter="url(#bb)"/>
<ellipse cx="1920.5" cy="631.4" rx="25.0" ry="13.1" transform="rotate(-20 1920.5 631.4)" fill="#a0b658" opacity="0.60" filter="url(#bb)"/>
<ellipse cx="1853.8" cy="617.1" rx="14.3" ry="23.8" transform="rotate(15 1853.8 617.1)" fill="#bcd268" opacity="0.60" filter="url(#bb)"/>
<rect x="1808.1" y="529.8" width="187.8" height="146.7" fill="#ffffff" opacity="0.20" filter="url(#nzl1)"/>
<rect x="1808.1" y="529.8" width="187.8" height="146.7" fill="#6a8030" opacity="0.18" filter="url(#nzd1)"/>
</g></g>
<g filter="url(#rb)" transform="rotate(0.00 1661.3 683.3)">
<path d="M1661.3,683.3 L2096.0,683.3 L2092.0,809.8 L1660.3,809.8 Z" fill="url(#rg1)"/>
<g clip-path="url(#rc1)">
<path d="M1670.5,683.3 V701.6 M1670.5,809.8 V787.2 M1680.2,683.3 V701.6 M1680.2,809.8 V787.2 M1689.9,683.3 V716.5 M1689.9,809.8 V774.1 M1699.6,683.3 V701.6 M1699.6,809.8 V787.2 M1709.3,683.3 V701.6 M1709.3,809.8 V787.2 M1719.0,683.3 V701.6 M1719.0,809.8 V787.2 M1728.7,683.3 V701.6 M1728.7,809.8 V787.2 M1738.4,683.3 V707.6 M1738.4,809.8 V783.0 M1748.1,683.3 V701.6 M1748.1,809.8 V787.2 M1757.8,683.3 V701.6 M1757.8,809.8 V787.2 M1767.5,683.3 V701.6 M1767.5,809.8 V787.2 M1777.2,683.3 V701.6 M1777.2,809.8 V787.2 M1786.9,683.3 V716.5 M1786.9,809.8 V774.1 M1796.7,683.3 V701.6 M1796.7,809.8 V787.2 M1806.4,683.3 V701.6 M1806.4,809.8 V787.2 M1816.2,683.3 V701.6 M1816.2,809.8 V787.2 M1825.9,683.3 V701.6 M1825.9,809.8 V787.2 M1835.7,683.3 V707.6 M1835.7,809.8 V783.0 M1845.5,683.3 V701.6 M1845.5,809.8 V787.2 M1855.2,683.3 V701.6 M1855.2,809.8 V787.2 M1865.0,683.3 V701.6 M1865.0,809.8 V787.2 M1874.7,683.3 V701.6 M1874.7,809.8 V787.2 M1884.5,683.3 V716.5 M1884.5,809.8 V774.1 M1894.3,683.3 V701.6 M1894.3,809.8 V787.2 M1904.1,683.3 V701.6 M1904.1,809.8 V787.2 M1913.8,683.3 V701.6 M1913.8,809.8 V787.2 M1923.6,683.3 V701.6 M1923.6,809.8 V787.2 M1933.4,683.3 V707.6 M1933.4,809.8 V783.0 M1943.2,683.3 V701.6 M1943.2,809.8 V787.2 M1953.0,683.3 V701.6 M1953.0,809.8 V787.2 M1962.7,683.3 V701.6 M1962.7,809.8 V787.2 M1972.5,683.3 V701.6 M1972.5,809.8 V787.2 M1982.3,683.3 V716.5 M1982.3,809.8 V774.1 M1992.1,683.3 V701.6 M1992.1,809.8 V787.2 M2001.8,683.3 V701.6 M2001.8,809.8 V787.2 M2011.6,683.3 V701.6 M2011.6,809.8 V787.2 M2021.4,683.3 V701.6 M2021.4,809.8 V787.2 M2031.2,683.3 V707.6 M2031.2,809.8 V783.0 M2040.9,683.3 V701.6 M2040.9,809.8 V787.2 M2050.7,683.3 V701.6 M2050.7,809.8 V787.2 M2060.5,683.3 V701.6 M2060.5,809.8 V787.2 M2070.2,683.3 V701.6 M2070.2,809.8 V787.2 M2080.0,683.3 V716.5 M2080.0,809.8 V774.1 M2089.8,683.3 V701.6 M2089.8,809.8 V787.2" stroke="#8d948f" stroke-width="3.6" fill="none"/>
<clipPath id="c1_1"><path d="M-2,-64.1 H38.4 V-8.6 H24.5 V3 H14.2 V-8.6 H-2 Z"/></clipPath>
<text class="rn" stroke-width="1.19" font-size="64.1" transform="translate(1666.4,768.2) scale(1.343,1)" clip-path="url(#c1_1)">1</text>
<text class="rn" stroke-width="1.19" font-size="64.1" transform="translate(1762.2,768.2) scale(1.343,1)">2</text>
<text class="rn" stroke-width="1.19" font-size="64.1" transform="translate(1860.1,768.2) scale(1.343,1)">3</text>
<text class="rn" stroke-width="1.19" font-size="64.1" transform="translate(1956.9,768.2) scale(1.343,1)">4</text>
<text class="rn" stroke-width="1.19" font-size="64.1" transform="translate(2054.9,768.2) scale(1.343,1)">5</text>
<path d="M2080.0,709.1 L2089.3,719.0 L2070.7,719.0 Z" fill="#2a2326"/>
<path d="M2080.0,784.7 L2089.3,775.7 L2070.7,775.7 Z" fill="#2a2326"/>
</g></g>
</g>
<g id="photo3">
<rect x="1603.2" y="923.2" width="543.5" height="388.2" fill="#000" filter="url(#rb)"/>
<g filter="url(#pb)">
<path d="M1786.4,969.5L1821.1,963.4L1852.4,962.6L1880.1,961.7L1890.6,965.2L1918.3,983.4L1953.1,1009.4L1980.8,1033.8L2008.6,1059.8L2031.2,1080.6L2037.3,1089.3L2032.9,1110.1L2022.5,1127.5L2013.8,1139.7L2015.6,1150.1L2005.1,1169.2L1970.4,1170.9L1765.6,1170.0L1762.1,1155.3L1756.9,1122.3L1751.7,1087.6L1748.2,1061.5L1737.8,1045.9L1751.7,1026.8L1767.3,1006.0L1776.0,1000.8L1779.4,978.2Z" fill="#66bc40" stroke="#66bc40" stroke-width="1.5" stroke-linejoin="round"/>
<g clip-path="url(#sc2)">
<ellipse cx="1848.9" cy="970.4" rx="62.5" ry="7.8" transform="rotate(0 1848.9 970.4)" fill="#8cc96a" opacity="0.80" filter="url(#bb)"/>
<ellipse cx="1831.5" cy="999.0" rx="59.0" ry="12.2" transform="rotate(20 1831.5 999.0)" fill="#a6d888" opacity="0.90" filter="url(#bb)"/>
<ellipse cx="1800.3" cy="1045.9" rx="53.8" ry="11.3" transform="rotate(30 1800.3 1045.9)" fill="#9cd27c" opacity="0.85" filter="url(#bb)"/>
<ellipse cx="1788.1" cy="1087.6" rx="43.4" ry="8.7" transform="rotate(38 1788.1 1087.6)" fill="#86c964" opacity="0.65" filter="url(#bb)"/>
<ellipse cx="1901.0" cy="1077.2" rx="66.0" ry="22.6" transform="rotate(36 1901.0 1077.2)" fill="#3a9c2c" opacity="0.80" filter="url(#bb)"/>
<ellipse cx="1887.1" cy="1137.9" rx="7.8" ry="10.4" transform="rotate(-25 1887.1 1137.9)" fill="#0c3a10" opacity="0.90" filter="url(#bs)"/>
<ellipse cx="2005.1" cy="1101.5" rx="24.3" ry="43.4" transform="rotate(10 2005.1 1101.5)" fill="#8ecb64" opacity="0.75" filter="url(#bb)"/>
<ellipse cx="1970.4" cy="1157.0" rx="45.1" ry="13.9" transform="rotate(0 1970.4 1157.0)" fill="#a8d282" opacity="0.85" filter="url(#bb)"/>
<ellipse cx="1800.3" cy="1139.7" rx="34.7" ry="26.0" transform="rotate(0 1800.3 1139.7)" fill="#6cc046" opacity="0.50" filter="url(#bb)"/>
<ellipse cx="1944.4" cy="1047.6" rx="43.4" ry="10.4" transform="rotate(40 1944.4 1047.6)" fill="#7cc45a" opacity="0.60" filter="url(#bb)"/>
<ellipse cx="1927.0" cy="1131.0" rx="26.0" ry="15.6" transform="rotate(0 1927.0 1131.0)" fill="#88c86c" opacity="0.60" filter="url(#bb)"/>
<ellipse cx="1866.2" cy="1026.8" rx="27.8" ry="10.4" transform="rotate(30 1866.2 1026.8)" fill="#4cae36" opacity="0.60" filter="url(#bb)"/>
<rect x="1733.8" y="957.7" width="307.5" height="217.2" fill="#eaffdc" opacity="0.32" filter="url(#nzl2)"/>
<rect x="1733.8" y="957.7" width="307.5" height="217.2" fill="#1c6a18" opacity="0.28" filter="url(#nzd2)"/>
</g></g>
<g filter="url(#rb)" transform="rotate(0.00 1683.1 1172.0)">
<path d="M1683.1,1172.0 L2088.0,1172.0 L2084.0,1274.4 L1682.1,1274.4 Z" fill="url(#rg2)"/>
<path d="M1683.1,1172.0 L2088.0,1172.0 L2084.0,1274.4 L1682.1,1274.4 Z" fill="url(#rgv)"/>
<rect x="1764.0" y="1169.4" width="240.0" height="3.4" fill="#16220f" opacity="0.85"/>
<g clip-path="url(#rc2)">
<path d="M1691.9,1172.0 V1188.0 M1691.9,1274.4 V1257.0 M1700.9,1172.0 V1188.0 M1700.9,1274.4 V1257.0 M1709.9,1172.0 V1198.2 M1709.9,1274.4 V1246.9 M1718.9,1172.0 V1188.0 M1718.9,1274.4 V1257.0 M1727.9,1172.0 V1188.0 M1727.9,1274.4 V1257.0 M1736.9,1172.0 V1188.0 M1736.9,1274.4 V1257.0 M1745.9,1172.0 V1188.0 M1745.9,1274.4 V1257.0 M1754.8,1172.0 V1191.6 M1754.8,1274.4 V1252.9 M1763.8,1172.0 V1188.0 M1763.8,1274.4 V1257.0 M1772.8,1172.0 V1188.0 M1772.8,1274.4 V1257.0 M1781.8,1172.0 V1188.0 M1781.8,1274.4 V1257.0 M1790.8,1172.0 V1188.0 M1790.8,1274.4 V1257.0 M1799.8,1172.0 V1198.2 M1799.8,1274.4 V1246.9 M1809.0,1172.0 V1188.0 M1809.0,1274.4 V1257.0 M1818.1,1172.0 V1188.0 M1818.1,1274.4 V1257.0 M1827.3,1172.0 V1188.0 M1827.3,1274.4 V1257.0 M1836.4,1172.0 V1188.0 M1836.4,1274.4 V1257.0 M1845.6,1172.0 V1191.6 M1845.6,1274.4 V1252.9 M1854.8,1172.0 V1188.0 M1854.8,1274.4 V1257.0 M1863.9,1172.0 V1188.0 M1863.9,1274.4 V1257.0 M1873.1,1172.0 V1188.0 M1873.1,1274.4 V1257.0 M1882.2,1172.0 V1188.0 M1882.2,1274.4 V1257.0 M1891.4,1172.0 V1198.2 M1891.4,1274.4 V1246.9 M1900.5,1172.0 V1188.0 M1900.5,1274.4 V1257.0 M1909.6,1172.0 V1188.0 M1909.6,1274.4 V1257.0 M1918.7,1172.0 V1188.0 M1918.7,1274.4 V1257.0 M1927.8,1172.0 V1188.0 M1927.8,1274.4 V1257.0 M1937.0,1172.0 V1191.6 M1937.0,1274.4 V1252.9 M1946.1,1172.0 V1188.0 M1946.1,1274.4 V1257.0 M1955.2,1172.0 V1188.0 M1955.2,1274.4 V1257.0 M1964.3,1172.0 V1188.0 M1964.3,1274.4 V1257.0 M1973.4,1172.0 V1188.0 M1973.4,1274.4 V1257.0 M1982.5,1172.0 V1198.2 M1982.5,1274.4 V1246.9 M1991.5,1172.0 V1188.0 M1991.5,1274.4 V1257.0 M2000.6,1172.0 V1188.0 M2000.6,1274.4 V1257.0 M2009.7,1172.0 V1188.0 M2009.7,1274.4 V1257.0 M2018.7,1172.0 V1188.0 M2018.7,1274.4 V1257.0 M2027.8,1172.0 V1191.6 M2027.8,1274.4 V1252.9 M2036.8,1172.0 V1188.0 M2036.8,1274.4 V1257.0 M2045.8,1172.0 V1188.0 M2045.8,1274.4 V1257.0 M2054.9,1172.0 V1188.0 M2054.9,1274.4 V1257.0 M2063.9,1172.0 V1188.0 M2063.9,1274.4 V1257.0 M2073.0,1172.0 V1198.2 M2073.0,1274.4 V1246.9 M2082.1,1172.0 V1188.0 M2082.1,1274.4 V1257.0" stroke="#8d948f" stroke-width="3.4" fill="none"/>
<clipPath id="c1_2"><path d="M-2,-51.5 H30.9 V-7.0 H19.7 V3 H11.4 V-7.0 H-2 Z"/></clipPath>
<text class="rn" stroke-width="1.02" font-size="51.5" transform="translate(1688.2,1241.5) scale(1.570,1)" clip-path="url(#c1_2)">1</text>
<text class="rn" stroke-width="1.02" font-size="51.5" transform="translate(1776.5,1241.5) scale(1.570,1)">2</text>
<text class="rn" stroke-width="1.02" font-size="51.5" transform="translate(1868.4,1241.5) scale(1.570,1)">3</text>
<text class="rn" stroke-width="1.02" font-size="51.5" transform="translate(1958.6,1241.5) scale(1.570,1)">4</text>
<text class="rn" stroke-width="1.02" font-size="51.5" transform="translate(2049.4,1241.5) scale(1.570,1)">5</text>
<path d="M2073.0,1192.7 L2081.6,1200.0 L2064.4,1200.0 Z" fill="#2a2326"/>
<path d="M2073.0,1254.9 L2081.6,1248.1 L2064.4,1248.1 Z" fill="#2a2326"/>
</g></g>
</g>
<g id="photo4">
<rect x="1603.2" y="1383.3" width="543.5" height="388.8" fill="#000" filter="url(#rb)"/>
<g filter="url(#pb)">
<path d="M1805.5,1417.1L1820.4,1422.3L1844.2,1425.3L1868.0,1428.3L1885.8,1434.2L1903.7,1438.7L1924.5,1450.6L1948.3,1461.0L1972.1,1471.4L1993.0,1475.9L2009.3,1478.9L2010.8,1487.8L2015.3,1496.7L2019.0,1505.7L2015.3,1519.0L2009.3,1536.9L1998.9,1551.8L1981.1,1565.2L1960.2,1578.6L1939.4,1590.5L1915.6,1599.4L1881.4,1603.1L1844.2,1603.9L1799.5,1605.1L1768.3,1605.1L1764.6,1593.5L1766.8,1563.7L1768.3,1533.9L1766.8,1513.1L1774.2,1495.2L1778.7,1477.4L1777.2,1459.5L1783.2,1444.6L1796.5,1434.2L1801.0,1422.3Z" fill="#5eb26c" stroke="#5eb26c" stroke-width="1.5" stroke-linejoin="round"/>
<g clip-path="url(#sc3)">
<ellipse cx="1888.8" cy="1522.0" rx="62.5" ry="43.2" transform="rotate(15 1888.8 1522.0)" fill="#4aa45e" opacity="0.70" filter="url(#bb)"/>
<ellipse cx="1790.6" cy="1575.6" rx="22.3" ry="34.2" transform="rotate(10 1790.6 1575.6)" fill="#94cb7c" opacity="0.85" filter="url(#bb)"/>
<ellipse cx="1784.6" cy="1492.3" rx="16.4" ry="38.7" transform="rotate(8 1784.6 1492.3)" fill="#70bc78" opacity="0.60" filter="url(#bb)"/>
<ellipse cx="2001.9" cy="1519.0" rx="11.9" ry="34.2" transform="rotate(10 2001.9 1519.0)" fill="#a8da96" opacity="0.85" filter="url(#bb)"/>
<ellipse cx="1972.1" cy="1571.1" rx="22.3" ry="8.9" transform="rotate(-30 1972.1 1571.1)" fill="#c4eab0" opacity="0.85" filter="url(#bb)"/>
<ellipse cx="1835.2" cy="1444.6" rx="29.8" ry="11.9" transform="rotate(10 1835.2 1444.6)" fill="#8ac274" opacity="0.70" filter="url(#bb)"/>
<ellipse cx="1933.5" cy="1571.1" rx="37.2" ry="20.8" transform="rotate(-15 1933.5 1571.1)" fill="#64b26a" opacity="0.50" filter="url(#bb)"/>
<ellipse cx="1823.3" cy="1533.9" rx="7.4" ry="62.5" transform="rotate(12 1823.3 1533.9)" fill="#8cc888" opacity="0.60" filter="url(#bb)"/>
<ellipse cx="1955.8" cy="1496.7" rx="29.8" ry="14.9" transform="rotate(20 1955.8 1496.7)" fill="#6aba7a" opacity="0.50" filter="url(#bb)"/>
<polygon points="1811.4,1420.8 1868.0,1428.3 1903.7,1438.7 1948.3,1461.0 2009.3,1478.9 2013.8,1495.2 1978.1,1489.3 1933.5,1474.4 1888.8,1456.5 1844.2,1443.2 1807.0,1432.7" fill="#6a8f62" opacity="0.8" filter="url(#bs)"/>
<rect x="1760.6" y="1413.1" width="262.5" height="195.9" fill="#e0ffe0" opacity="0.25" filter="url(#nzl3)"/>
<rect x="1760.6" y="1413.1" width="262.5" height="195.9" fill="#1c6a38" opacity="0.25" filter="url(#nzd3)"/>
</g></g>
<g filter="url(#rb)" transform="rotate(0.00 1637.3 1606.2)">
<path d="M1637.3,1606.2 L2098.0,1606.2 L2094.0,1712.5 L1636.3,1712.5 Z" fill="url(#rg3)"/>
<rect x="1766.0" y="1603.6" width="154.0" height="3.4" fill="#16220f" opacity="0.85"/>
<g clip-path="url(#rc3)">
<path d="M1647.1,1606.2 V1621.0 M1647.1,1712.5 V1693.5 M1657.4,1606.2 V1621.0 M1657.4,1712.5 V1693.5 M1667.6,1606.2 V1632.9 M1667.6,1712.5 V1682.8 M1677.8,1606.2 V1621.0 M1677.8,1712.5 V1693.5 M1688.1,1606.2 V1621.0 M1688.1,1712.5 V1693.5 M1698.3,1606.2 V1621.0 M1698.3,1712.5 V1693.5 M1708.6,1606.2 V1621.0 M1708.6,1712.5 V1693.5 M1718.8,1606.2 V1625.7 M1718.8,1712.5 V1689.9 M1729.0,1606.2 V1621.0 M1729.0,1712.5 V1693.5 M1739.3,1606.2 V1621.0 M1739.3,1712.5 V1693.5 M1749.5,1606.2 V1621.0 M1749.5,1712.5 V1693.5 M1759.8,1606.2 V1621.0 M1759.8,1712.5 V1693.5 M1770.0,1606.2 V1632.9 M1770.0,1712.5 V1682.8 M1780.3,1606.2 V1621.0 M1780.3,1712.5 V1693.5 M1790.6,1606.2 V1621.0 M1790.6,1712.5 V1693.5 M1800.9,1606.2 V1621.0 M1800.9,1712.5 V1693.5 M1811.2,1606.2 V1621.0 M1811.2,1712.5 V1693.5 M1821.5,1606.2 V1625.7 M1821.5,1712.5 V1689.9 M1831.8,1606.2 V1621.0 M1831.8,1712.5 V1693.5 M1842.1,1606.2 V1621.0 M1842.1,1712.5 V1693.5 M1852.4,1606.2 V1621.0 M1852.4,1712.5 V1693.5 M1862.7,1606.2 V1621.0 M1862.7,1712.5 V1693.5 M1873.0,1606.2 V1632.9 M1873.0,1712.5 V1682.8 M1883.4,1606.2 V1621.0 M1883.4,1712.5 V1693.5 M1893.8,1606.2 V1621.0 M1893.8,1712.5 V1693.5 M1904.2,1606.2 V1621.0 M1904.2,1712.5 V1693.5 M1914.6,1606.2 V1621.0 M1914.6,1712.5 V1693.5 M1925.0,1606.2 V1625.7 M1925.0,1712.5 V1689.9 M1935.4,1606.2 V1621.0 M1935.4,1712.5 V1693.5 M1945.8,1606.2 V1621.0 M1945.8,1712.5 V1693.5 M1956.2,1606.2 V1621.0 M1956.2,1712.5 V1693.5 M1966.6,1606.2 V1621.0 M1966.6,1712.5 V1693.5 M1977.0,1606.2 V1632.9 M1977.0,1712.5 V1682.8 M1987.3,1606.2 V1621.0 M1987.3,1712.5 V1693.5 M1997.6,1606.2 V1621.0 M1997.6,1712.5 V1693.5 M2007.9,1606.2 V1621.0 M2007.9,1712.5 V1693.5 M2018.2,1606.2 V1621.0 M2018.2,1712.5 V1693.5 M2028.5,1606.2 V1625.7 M2028.5,1712.5 V1689.9 M2038.8,1606.2 V1621.0 M2038.8,1712.5 V1693.5 M2049.1,1606.2 V1621.0 M2049.1,1712.5 V1693.5 M2059.4,1606.2 V1621.0 M2059.4,1712.5 V1693.5 M2069.7,1606.2 V1621.0 M2069.7,1712.5 V1693.5 M2080.0,1606.2 V1632.9 M2080.0,1712.5 V1682.8 M2090.3,1606.2 V1621.0 M2090.3,1712.5 V1693.5" stroke="#8d948f" stroke-width="3.7" fill="none"/>
<clipPath id="c1_3"><path d="M-2,-53.2 H31.9 V-7.2 H20.4 V3 H11.8 V-7.2 H-2 Z"/></clipPath>
<text class="rn" stroke-width="0.96" font-size="53.2" transform="translate(1643.0,1677.0) scale(1.675,1)" clip-path="url(#c1_3)">1</text>
<text class="rn" stroke-width="0.96" font-size="53.2" transform="translate(1744.4,1677.0) scale(1.675,1)">2</text>
<text class="rn" stroke-width="0.96" font-size="53.2" transform="translate(1847.8,1677.0) scale(1.675,1)">3</text>
<text class="rn" stroke-width="0.96" font-size="53.2" transform="translate(1950.8,1677.0) scale(1.675,1)">4</text>
<text class="rn" stroke-width="0.96" font-size="53.2" transform="translate(2054.1,1677.0) scale(1.675,1)">5</text>
<path d="M2080.0,1626.4 L2089.8,1635.1 L2070.2,1635.1 Z" fill="#2a2326"/>
<path d="M2080.0,1692.2 L2089.8,1684.2 L2070.2,1684.2 Z" fill="#2a2326"/>
</g></g>
</g>
</svg></body></html>
